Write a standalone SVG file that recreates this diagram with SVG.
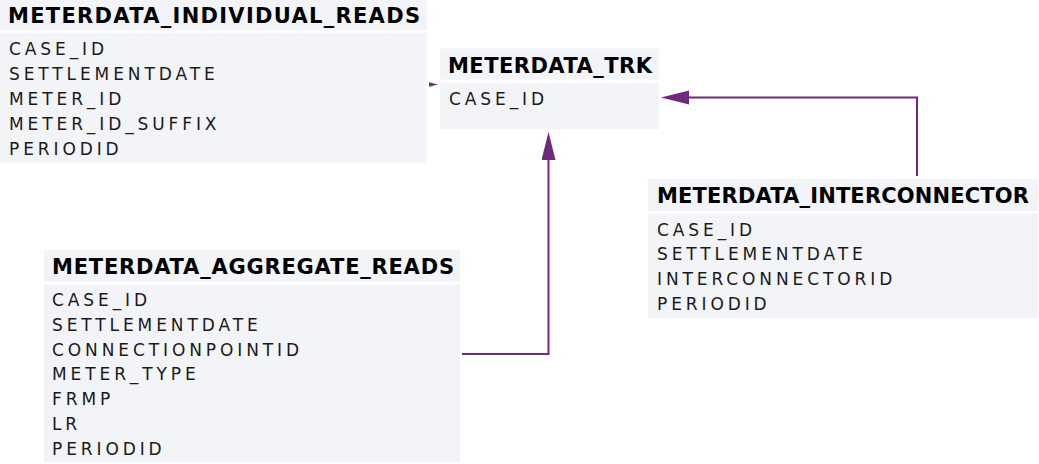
<svg xmlns="http://www.w3.org/2000/svg" width="1039" height="464" viewBox="0 0 1039 464">
<style>
.bg{fill:#f3f4f8}
.h{font-family:"DejaVu Sans",Verdana,sans-serif;font-weight:bold;font-size:21px;fill:#000}
.r{font-family:"DejaVu Sans",Verdana,sans-serif;font-size:17px;letter-spacing:3.9px;fill:#1a1a1a}
.c{fill:none;stroke:#6f2b7b;stroke-width:2}
</style>
<defs>
<marker id="ah" markerUnits="userSpaceOnUse" markerWidth="30" markerHeight="16" refX="0" refY="7" orient="auto">
<path d="M0,0 L28,7 L0,14 Z" fill="#6f2b7b"/>
</marker>
</defs>
<rect width="1039" height="464" fill="#fff"/>
<g id="connectors">
<path class="c" d="M462,354 H548.5 V160" marker-end="url(#ah)"/>
<path class="c" d="M917,176 V97.5 H689" marker-end="url(#ah)"/>
<polygon points="429,82.3 438,84.5 429,86.7" fill="#6f2b7b"/>
</g>
<g id="METERDATA_INDIVIDUAL_READS">
<rect class="bg" x="0" y="-2" width="427" height="32"/>
<rect class="bg" x="0" y="32.7" width="427" height="130"/>
<text class="h" x="8" y="22.8" textLength="412" lengthAdjust="spacing">METERDATA_INDIVIDUAL_READS</text>
<text class="r" x="9" y="55">CASE_ID</text>
<text class="r" x="9" y="80">SETTLEMENTDATE</text>
<text class="r" x="9" y="105">METER_ID</text>
<text class="r" x="9" y="130">METER_ID_SUFFIX</text>
<text class="r" x="9" y="155">PERIODID</text>
</g>
<g id="METERDATA_TRK">
<rect class="bg" x="440" y="48.5" width="219" height="31"/>
<rect class="bg" x="440" y="82.3" width="219" height="46.7"/>
<text class="h" x="448" y="73" textLength="204" lengthAdjust="spacing">METERDATA_TRK</text>
<text class="r" x="449" y="105">CASE_ID</text>
</g>
<g id="METERDATA_INTERCONNECTOR">
<rect class="bg" x="648" y="179" width="390" height="32"/>
<rect class="bg" x="648" y="213.7" width="390" height="104.6"/>
<text class="h" x="657" y="203.3" textLength="372" lengthAdjust="spacing">METERDATA_INTERCONNECTOR</text>
<text class="r" x="657" y="235.5">CASE_ID</text>
<text class="r" x="657" y="260.3">SETTLEMENTDATE</text>
<text class="r" x="657" y="285.1">INTERCONNECTORID</text>
<text class="r" x="657" y="309.9">PERIODID</text>
</g>
<g id="METERDATA_AGGREGATE_READS">
<rect class="bg" x="44" y="250" width="416" height="31.7"/>
<rect class="bg" x="44" y="284.3" width="416" height="178.4"/>
<text class="h" x="52" y="273.5" textLength="402" lengthAdjust="spacing">METERDATA_AGGREGATE_READS</text>
<text class="r" x="52" y="306">CASE_ID</text>
<text class="r" x="52" y="330.8">SETTLEMENTDATE</text>
<text class="r" x="52" y="355.6">CONNECTIONPOINTID</text>
<text class="r" x="52" y="380.4">METER_TYPE</text>
<text class="r" x="52" y="405.2">FRMP</text>
<text class="r" x="52" y="430">LR</text>
<text class="r" x="52" y="454.8">PERIODID</text>
</g>
</svg>
